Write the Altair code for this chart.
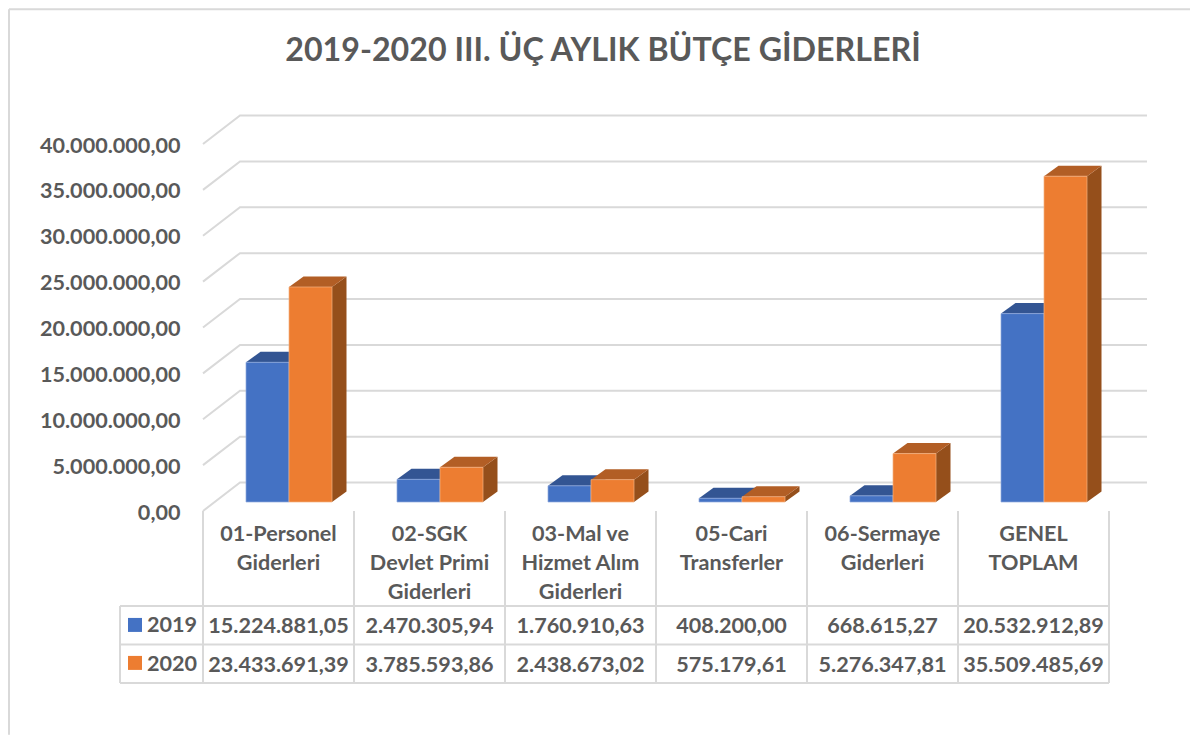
import altair as alt
import pandas as pd

categories = ["01-Personel\nGiderleri", "02-SGK\nDevlet Primi\nGiderleri", "03-Mal ve\nHizmet Alım\nGiderleri",
              "05-Cari\nTransferler", "06-Sermaye\nGiderleri", "GENEL\nTOPLAM"]
values_2019 = [15224881.05, 2470305.94, 1760910.63, 408200.00, 668615.27, 20532912.89]
values_2020 = [23433691.39, 3785593.86, 2438673.02, 575179.61, 5276347.81, 35509485.69]
labels_2019 = ["15.224.881,05", "2.470.305,94", "1.760.910,63", "408.200,00", "668.615,27", "20.532.912,89"]
labels_2020 = ["23.433.691,39", "3.785.593,86", "2.438.673,02", "575.179,61", "5.276.347,81", "35.509.485,69"]
y_ticks = [0, 5e6, 10e6, 15e6, 20e6, 25e6, 30e6, 35e6, 40e6]

TEXT = "#595959"
GRID = "#d9d9d9"
FONT = "Lato"
FS = 21.6
PX_X = 151.0          # pixels per category
PX_Y = 367.2 / 40e6   # pixels per value unit


def U(px):            # vertical pixels to value units
    return px / PX_Y


def X(px):            # horizontal pixels to category units
    return px / PX_X


BAR_W = X(43)
DEPTH_X = X(14.5)
DEPTH_Y = U(10.5)
W = 906
H = 367
xs = alt.Scale(domain=[0, 6], nice=False, zero=False)
ys = alt.Scale(domain=[0, 40e6], nice=False, zero=False)
y_axis = alt.Axis(
    values=y_ticks, domain=False, ticks=False, grid=False, labelFontSize=FS, title=None,
    labelFont=FONT, labelFontWeight="bold", labelColor=TEXT, labelPadding=23, labelOffset=11,
    labelExpr="replace(replace(replace(format(datum.value, ',.2f'), regexp(',', 'g'), '#'), regexp('[.]', 'g'), ','), regexp('#', 'g'), '.')")


def xe(f="x"):
    return alt.X(f"{f}:Q", scale=xs, axis=None)


def ye(f="y"):
    return alt.Y(f"{f}:Q", scale=ys, axis=y_axis)


front, sides, tops = [], [], []
for s, vals in (("2019", values_2019), ("2020", values_2020)):
    for i, v in enumerate(vals):
        x0 = i + BAR_W * (1 if s == "2019" else 2)
        x1 = x0 + BAR_W
        k = f"{s}-{i}"
        front.append(dict(s=s, x=x0, x2=x1, y=0, y2=v))
        sides += [dict(s=s, k=k, x=x1, y=0, y2=v), dict(s=s, k=k, x=x1 + DEPTH_X, y=DEPTH_Y, y2=v + DEPTH_Y)]
        tops += [dict(s=s, k=k, x=x0, y=v, y2=v), dict(s=s, k=k, x=x0 + DEPTH_X, y=v, y2=v + DEPTH_Y),
                 dict(s=s, k=k, x=x1, y=v, y2=v + DEPTH_Y), dict(s=s, k=k, x=x1 + DEPTH_X, y=v + DEPTH_Y, y2=v + DEPTH_Y)]
front, sides, tops = pd.DataFrame(front), pd.DataFrame(sides), pd.DataFrame(tops)

# wall gridlines: front plane sits 9 px below the bar plane, back wall 19.5 px above it
WALL_FRONT = U(-9)
WALL_BACK = U(19.5)
grid = []
for t in y_ticks:
    pts = [(0, t + WALL_FRONT), (X(37), t + WALL_BACK), (X(944), t + WALL_BACK)]
    for n, (px, py) in enumerate(pts):
        grid.append(dict(t=t, n=n, x=px, y=py))
grid = pd.DataFrame(grid)

# data-table frame and outer chart border, in the chart's own units
ROW_0, ROW_1, ROW_2 = U(-104), U(-142.5), U(-181)
TOP = U(-9)
LEFT = X(-83)
lines = []
for i in range(7):
    lines.append(dict(x=float(i), x2=float(i), y=TOP, y2=ROW_2))
lines.append(dict(x=LEFT, x2=LEFT, y=ROW_0, y2=ROW_2))
for r in (ROW_0, ROW_1, ROW_2):
    lines.append(dict(x=LEFT, x2=6.0, y=r, y2=r))
lines.append(dict(x=X(-194), x2=X(-194), y=U(493), y2=U(-233)))
lines.append(dict(x=X(-194), x2=X(987), y=U(493), y2=U(493)))
lines = pd.DataFrame(lines)

cat_rows = []
for i, c in enumerate(categories):
    for j, part in enumerate(c.split("\n")):
        cat_rows.append(dict(x=i + 0.5, y=U(-33 - 29 * j), t=part))
cat_rows = pd.DataFrame(cat_rows)

val_rows = []
for i in range(6):
    val_rows.append(dict(x=i + 0.5, y=U(-125), t=labels_2019[i]))
    val_rows.append(dict(x=i + 0.5, y=U(-164), t=labels_2020[i]))
val_rows = pd.DataFrame(val_rows)

leg = pd.DataFrame([
    dict(s="2019", x=X(-75), x2=X(-61), y=U(-116), y2=U(-130), tx=X(-56), ty=U(-124)),
    dict(s="2020", x=X(-75), x2=X(-61), y=U(-154), y2=U(-168), tx=X(-56), ty=U(-163)),
])
color = alt.Color("s:N", scale=alt.Scale(domain=["2019", "2020"], range=["#4472C4", "#ED7D31"]), legend=None)

axis_layer = alt.Chart(pd.DataFrame({"y": y_ticks})).mark_rule(opacity=0).encode(y=ye())
grid_l = alt.Chart(grid).mark_line(color=GRID, strokeWidth=2).encode(x=xe(), y=ye(), detail="t:N", order="n:Q")
line_l = alt.Chart(lines).mark_rule(color=GRID, strokeWidth=2).encode(x=xe(), x2="x2:Q", y=ye(), y2="y2:Q")


def area(df, s, col):
    return alt.Chart(df[df.s == s]).mark_area(color=col, interpolate="linear").encode(
        x=xe(), y=ye(), y2="y2:Q", detail="k:N")


def bar(s, edge):
    return alt.Chart(front[front.s == s]).mark_rect(stroke=edge, strokeWidth=0.7).encode(
        x=xe(), x2="x2:Q", y=ye(), y2="y2:Q", color=color)


def text(df, **kw):
    return alt.Chart(df).mark_text(font=FONT, fontWeight="bold", color=TEXT, fontSize=FS, **kw)


cat_l = text(cat_rows).encode(x=xe(), y=ye(), text="t:N")
val_l = text(val_rows).encode(x=xe(), y=ye(), text="t:N")
leg_r = alt.Chart(leg).mark_rect().encode(x=xe(), x2="x2:Q", y=ye(), y2="y2:Q", color=color)
leg_t = text(leg, align="left").encode(x=xe("tx"), y=ye("ty"), text="s:N")

chart = alt.layer(
    axis_layer, grid_l, line_l,
    area(sides, "2019", "#2F5597"), area(tops, "2019", "#335593"), bar("2019", "#8FAADC"),
    area(sides, "2020", "#954F1B"), area(tops, "2020", "#B25E25"), bar("2020", "#F4B183"),
    cat_l, val_l, leg_r, leg_t,
).properties(
    width=W, height=H,
    title=alt.TitleParams("2019-2020 III. ÜÇ AYLIK BÜTÇE GİDERLERİ", font=FONT, fontSize=32.2, fontWeight="bold",
                          color=TEXT, anchor="middle", dx=-53, offset=-60),
    padding={"left": 195, "top": 127, "right": 81, "bottom": 233},
    autosize=alt.AutoSizeParams(type="none"),
).configure_view(stroke=None)

chart.save("out.html", embed_options={"renderer": "svg", "actions": False})
